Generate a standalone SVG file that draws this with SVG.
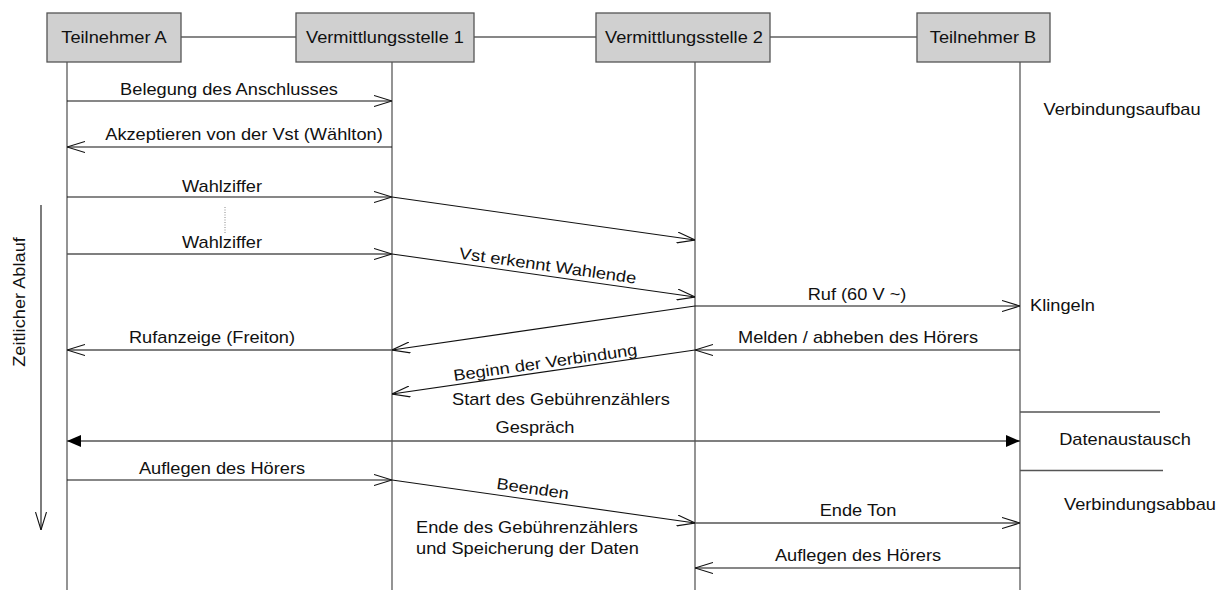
<svg xmlns="http://www.w3.org/2000/svg" width="1229" height="590" viewBox="0 0 1229 590">
  <style>
    text { font-family: "Liberation Sans", Arial, sans-serif; font-size: 16px; fill: #111; }
    .mid { text-anchor: middle; }
    .box { fill: #d0d0d0; stroke: #555; stroke-width: 1.3; }
    .life { stroke: #666; stroke-width: 1.4; fill: none; }
    .msg { stroke: #111; stroke-width: 1.1; fill: none; }
    .grey { stroke: #555; stroke-width: 1.3; fill: none; }
    .dots { stroke: #888; stroke-width: 1; stroke-dasharray: 1 1.5; fill: none; }
  </style>
  <defs>
    <marker id="open" viewBox="0 0 18 12" refX="18" refY="6" markerWidth="18" markerHeight="12" markerUnits="userSpaceOnUse" orient="auto">
      <path d="M0,0.5 L18,6 L0,11.5" fill="none" stroke="#111" stroke-width="1.1"/>
    </marker>
    <marker id="solid" viewBox="0 0 14 12" refX="14" refY="6" markerWidth="14" markerHeight="12" markerUnits="userSpaceOnUse" orient="auto-start-reverse">
      <path d="M0,0 L14,6 L0,12 Z" fill="#000"/>
    </marker>
  </defs>

  <!-- lifelines and header links -->
  <g id="lifelines">
    <line class="life" x1="67" y1="62" x2="67" y2="590"/>
    <line class="life" x1="392" y1="62" x2="392" y2="590"/>
    <line class="life" x1="695" y1="62" x2="695" y2="590"/>
    <line class="life" x1="1020" y1="62" x2="1020" y2="590"/>
    <line class="msg" x1="181" y1="37" x2="296" y2="37"/>
    <line class="msg" x1="474" y1="37" x2="596" y2="37"/>
    <line class="msg" x1="770" y1="37" x2="917" y2="37"/>
  </g>

  <!-- participants -->
  <g id="teilnehmer-a">
    <rect class="box" x="47" y="13" width="134" height="49"/>
    <text class="mid" transform="translate(114,43) scale(1.14,1)">Teilnehmer A</text>
  </g>
  <g id="vst-1">
    <rect class="box" x="296" y="13" width="178" height="49"/>
    <text class="mid" transform="translate(385,43) scale(1.14,1)">Vermittlungsstelle 1</text>
  </g>
  <g id="vst-2">
    <rect class="box" x="596" y="13" width="174" height="49"/>
    <text class="mid" transform="translate(684,43) scale(1.14,1)">Vermittlungsstelle 2</text>
  </g>
  <g id="teilnehmer-b">
    <rect class="box" x="917" y="13" width="133" height="49"/>
    <text class="mid" transform="translate(983,43) scale(1.14,1)">Teilnehmer B</text>
  </g>

  <!-- messages -->
  <g id="connectors">
    <line class="msg" x1="67" y1="101" x2="392" y2="101" marker-end="url(#open)"/>
    <line class="msg" x1="392" y1="147" x2="67" y2="147" marker-end="url(#open)"/>
    <line class="msg" x1="67" y1="197" x2="392" y2="197" marker-end="url(#open)"/>
    <line class="msg" x1="392" y1="197" x2="695" y2="240" marker-end="url(#open)"/>
    <line class="dots" x1="225" y1="207" x2="225" y2="233"/>
    <line class="grey" x1="67" y1="254" x2="392" y2="254" marker-end="url(#open)"/>
    <line class="msg" x1="392" y1="254" x2="695" y2="297" marker-end="url(#open)"/>
    <line class="msg" x1="695" y1="306" x2="1020" y2="306" marker-end="url(#open)"/>
    <line class="msg" x1="695" y1="306" x2="392" y2="350" marker-end="url(#open)"/>
    <line class="grey" x1="392" y1="350" x2="67" y2="350" marker-end="url(#open)"/>
    <line class="msg" x1="1020" y1="350" x2="695" y2="350" marker-end="url(#open)"/>
    <line class="msg" x1="695" y1="350" x2="392" y2="394" marker-end="url(#open)"/>
    <line class="grey" x1="67" y1="441" x2="1020" y2="441" marker-start="url(#solid)" marker-end="url(#solid)"/>
    <line class="msg" x1="67" y1="480" x2="392" y2="480" marker-end="url(#open)"/>
    <line class="msg" x1="392" y1="480" x2="695" y2="523" marker-end="url(#open)"/>
    <line class="grey" x1="695" y1="523" x2="1020" y2="523" marker-end="url(#open)"/>
    <line class="msg" x1="1020" y1="568" x2="695" y2="568" marker-end="url(#open)"/>
    <!-- phase separators -->
    <line class="grey" x1="1020" y1="412" x2="1160" y2="412"/>
    <line class="grey" x1="1020" y1="470.5" x2="1163" y2="470.5"/>
    <!-- time axis -->
    <line class="msg" x1="41" y1="205" x2="41" y2="530" marker-end="url(#open)"/>
  </g>

  <!-- labels -->
  <g id="labels">
    <text class="mid" transform="translate(229,95) scale(1.14,1)">Belegung des Anschlusses</text>
    <text class="mid" transform="translate(244,140) scale(1.14,1)">Akzeptieren von der Vst (Wählton)</text>
    <text class="mid" transform="translate(222,192) scale(1.14,1)">Wahlziffer</text>
    <text class="mid" transform="translate(222,248) scale(1.14,1)">Wahlziffer</text>
    <text class="mid" transform="translate(547,271) rotate(8.1) scale(1.14,1)">Vst erkennt Wahlende</text>
    <text class="mid" transform="translate(857,300) scale(1.14,1)">Ruf (60 V ~)</text>
    <text transform="translate(1030,311) scale(1.14,1)">Klingeln</text>
    <text class="mid" transform="translate(212,343) scale(1.14,1)">Rufanzeige (Freiton)</text>
    <text class="mid" transform="translate(858,343) scale(1.14,1)">Melden / abheben des Hörers</text>
    <text class="mid" transform="translate(546,368) rotate(-8.1) scale(1.14,1)">Beginn der Verbindung</text>
    <text transform="translate(452,405) scale(1.14,1)">Start des Gebührenzählers</text>
    <text class="mid" transform="translate(535,433) scale(1.14,1)">Gespräch</text>
    <text class="mid" transform="translate(222,474) scale(1.14,1)">Auflegen des Hörers</text>
    <text class="mid" transform="translate(532,494) rotate(8.1) scale(1.14,1)">Beenden</text>
    <text transform="translate(416,533) scale(1.14,1)">Ende des Gebührenzählers</text>
    <text transform="translate(416,554) scale(1.14,1)">und Speicherung der Daten</text>
    <text class="mid" transform="translate(858,516) scale(1.14,1)">Ende Ton</text>
    <text class="mid" transform="translate(858,561) scale(1.14,1)">Auflegen des Hörers</text>
    <text class="mid" transform="translate(1122,115) scale(1.14,1)">Verbindungsaufbau</text>
    <text class="mid" transform="translate(1125,445) scale(1.14,1)">Datenaustausch</text>
    <text class="mid" transform="translate(1140,510) scale(1.14,1)">Verbindungsabbau</text>
    <text class="mid" transform="translate(25,302) rotate(-90) scale(1.14,1)">Zeitlicher Ablauf</text>
  </g>
</svg>
